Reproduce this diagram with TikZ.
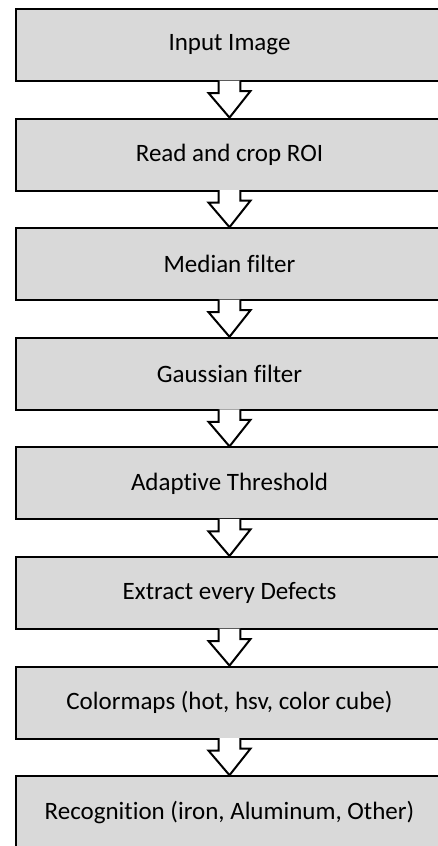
\documentclass[tikz,border=0pt]{standalone}
\usepackage{fontspec}
\setmainfont{Carlito}[Ligatures={NoCommon,NoContextual}]
\definecolor{boxgray}{HTML}{D9D9D9}
\begin{document}
\begin{tikzpicture}[x=1pt,y=-1pt,
  stepbox/.style={draw,line width=\fclw,fill=boxgray,minimum width=428pt,
    minimum height=72pt,inner sep=0pt,font=\fontsize{25}{30}\selectfont},
  blockarrow/.style={line width=\fclw,fill=white,line join=miter}]
% flow chart of the defect pipeline, dimensions in pixels of the page
\ifx\fclw\undefined\newdimen\fclw\fi
\fclw=2pt
\global\def\fcarrow#1#2{\draw[blockarrow] ([xshift=-10.8pt,yshift=1.5pt]#1.south)
 --++(0pt,-12.5pt) --++(-10.2pt,0pt) --(#2.north)
 --++(21pt,26.6pt) --++(-10.2pt,0pt)
 --([xshift=10.8pt,yshift=1.5pt]#1.south);}
\useasboundingbox (0,0) rectangle (438,846);
\node[stepbox] (input) at (229.5,45) {Input Image};
\node[stepbox] (crop) at (229.5,154.6) {Read and crop ROI};
\node[stepbox] (median) at (229.5,264.2) {Median filter};
\node[stepbox] (gauss) at (229.5,373.8) {Gaussian filter};
\node[stepbox] (thresh) at (229.5,483.4) {Adaptive Threshold};
\node[stepbox] (defects) at (229.5,593) {Extract every Defects};
\node[stepbox] (cmaps) at (229.5,702.6) {Colormaps (hot, hsv, color cube)};
\node[stepbox] (recog) at (229.5,812.2) {Recognition (iron, Aluminum, Other)};
\fcarrow{input}{crop}
\fcarrow{crop}{median}
\fcarrow{median}{gauss}
\fcarrow{gauss}{thresh}
\fcarrow{thresh}{defects}
\fcarrow{defects}{cmaps}
\fcarrow{cmaps}{recog}
\end{tikzpicture}
\end{document}
